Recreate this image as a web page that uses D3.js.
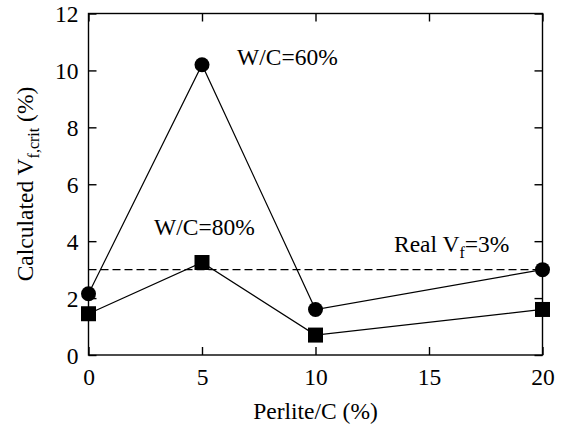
<!DOCTYPE html>
<html>
<head>
<meta charset="utf-8">
<script src="https://cdn.jsdelivr.net/npm/d3@7"></script>
<style>
  body { margin: 0; background: #fff; }
  text { font-family: "Liberation Serif", "Times New Roman", serif; fill: #000; }
</style>
</head>
<body>
<svg id="chart"></svg>
<script>
// data
var perlite = [0, 5, 10, 20];
var wc60 = [2.15, 10.2, 1.6, 3.0];
var wc80 = [1.45, 3.25, 0.7, 1.6];
var realVf = 3;
var xTicks = [0, 5, 10, 15, 20];
var yTicks = [0, 2, 4, 6, 8, 10, 12];

var width = 567, height = 435;
var plotL = 88.5, plotR = 542.5, plotT = 13.5, plotB = 355;
var fs = '23.5px', fsSub = '16px';

var svg = d3.select('#chart')
    .attr('width', width)
    .attr('height', height);

var x = d3.scaleLinear().domain([0, 20]).range([plotL, plotR]);
var y = d3.scaleLinear().domain([0, 12]).range([plotB, plotT]);

// frame
svg.append('rect')
    .attr('x', plotL).attr('y', plotT)
    .attr('width', plotR - plotL).attr('height', plotB - plotT)
    .attr('fill', 'none').attr('stroke', '#000').attr('stroke-width', 1.4);

// axes with inward ticks on all four sides
var xAxis = svg.append('g')
    .attr('transform', 'translate(0,' + plotB + ')')
    .call(d3.axisBottom(x).tickValues(xTicks).tickSizeInner(-8).tickSizeOuter(0).tickPadding(13));
var xAxisT = svg.append('g')
    .attr('transform', 'translate(0,' + plotT + ')')
    .call(d3.axisTop(x).tickValues(xTicks).tickSizeInner(-8).tickSizeOuter(0).tickFormat(''));
var yAxis = svg.append('g')
    .attr('transform', 'translate(' + plotL + ',0)')
    .call(d3.axisLeft(y).tickValues(yTicks).tickSizeInner(-8).tickSizeOuter(0).tickPadding(10));
var yAxisR = svg.append('g')
    .attr('transform', 'translate(' + plotR + ',0)')
    .call(d3.axisRight(y).tickValues(yTicks).tickSizeInner(-8).tickSizeOuter(0).tickFormat(''));

[xAxis, xAxisT, yAxis, yAxisR].forEach(function(g) {
    g.select('.domain').remove();
    g.selectAll('line').attr('stroke', '#000').attr('stroke-width', 1.4);
    g.selectAll('text').style('font-family', '"Liberation Serif", serif').style('font-size', fs).attr('fill', '#000');
});
yAxis.selectAll('text').attr('dy', '0.34em');

// real Vf dashed line
svg.append('line')
    .attr('x1', x(0)).attr('x2', x(20))
    .attr('y1', y(realVf)).attr('y2', y(realVf))
    .attr('stroke', '#000').attr('stroke-width', 1.2)
    .attr('stroke-dasharray', '8,4');

var line = d3.line()
    .x(function(d) { return x(d[0]); })
    .y(function(d) { return y(d[1]); });

var s60 = perlite.map(function(p, i) { return [p, wc60[i]]; });
var s80 = perlite.map(function(p, i) { return [p, wc80[i]]; });

svg.append('path').datum(s60).attr('d', line)
    .attr('fill', 'none').attr('stroke', '#000').attr('stroke-width', 1.2);
svg.append('path').datum(s80).attr('d', line)
    .attr('fill', 'none').attr('stroke', '#000').attr('stroke-width', 1.2);

svg.selectAll('.c60').data(s60).enter().append('circle')
    .attr('cx', function(d) { return x(d[0]); })
    .attr('cy', function(d) { return y(d[1]); })
    .attr('r', 7.5).attr('fill', '#000');

svg.selectAll('.s80').data(s80).enter().append('rect')
    .attr('x', function(d) { return x(d[0]) - 7.5; })
    .attr('y', function(d) { return y(d[1]) - 7.5; })
    .attr('width', 15).attr('height', 15).attr('fill', '#000');

// annotations
svg.append('text').attr('x', 237).attr('y', 65)
    .style('font-size', fs).text('W/C=60%');
svg.append('text').attr('x', 154).attr('y', 235)
    .style('font-size', fs).text('W/C=80%');
var rv = svg.append('text').attr('x', 394).attr('y', 252).style('font-size', fs);
rv.append('tspan').text('Real V');
rv.append('tspan').attr('dy', 6).style('font-size', fsSub).text('f');
rv.append('tspan').attr('dy', -6).text('=3%');

// axis titles
svg.append('text').attr('x', (plotL + plotR) / 2).attr('y', 419)
    .attr('text-anchor', 'middle').style('font-size', fs).text('Perlite/C (%)');

var yt = svg.append('text')
    .attr('transform', 'translate(33,184) rotate(-90)')
    .attr('text-anchor', 'middle').style('font-size', fs);
yt.append('tspan').text('Calculated V');
yt.append('tspan').attr('dy', 6).style('font-size', fsSub).text('f,crit');
yt.append('tspan').attr('dy', -6).text(' (%)');
</script>
</body>
</html>
